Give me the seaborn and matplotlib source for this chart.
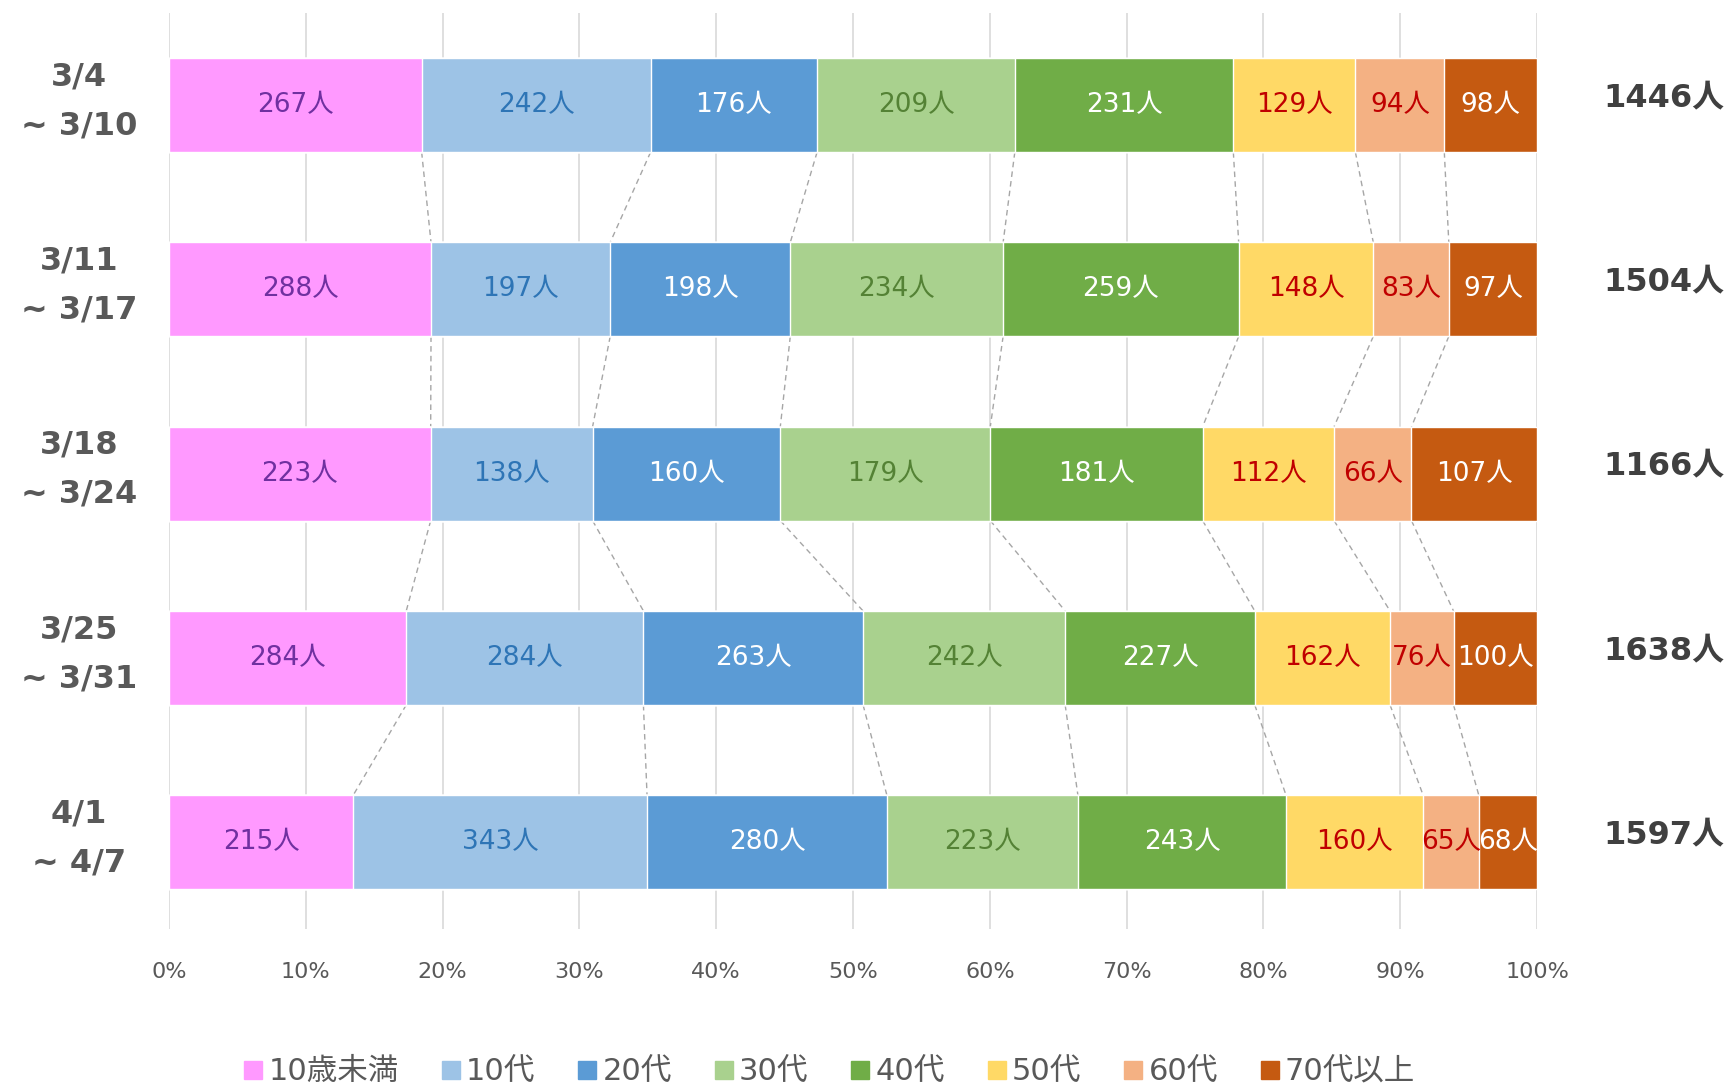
import numpy as np
import pandas as pd
import matplotlib
matplotlib.use("Agg")
import matplotlib.pyplot as plt
import seaborn as sns
from matplotlib.lines import Line2D

# ---- data ----
weeks = ["3/4\n~ 3/10", "3/11\n~ 3/17", "3/18\n~ 3/24", "3/25\n~ 3/31", "4/1\n~ 4/7"]
groups = ["10歳未満", "10代", "20代", "30代", "40代", "50代", "60代", "70代以上"]
under10 = [267, 288, 223, 284, 215]
teens = [242, 197, 138, 284, 343]
twenties = [176, 198, 160, 263, 280]
thirties = [209, 234, 179, 242, 223]
forties = [231, 259, 181, 227, 243]
fifties = [129, 148, 112, 162, 160]
sixties = [94, 83, 66, 76, 65]
seventies = [98, 97, 107, 100, 68]
totals = [1446, 1504, 1166, 1638, 1597]

colors = ["#FF99FF", "#9DC3E6", "#5B9BD5", "#A9D18E", "#70AD47", "#FFD966", "#F4B183", "#C55A11"]
label_colors = ["#7030A0", "#2E75B6", "white", "#548235", "white", "#C00000", "#C00000", "white"]

counts = np.array([under10, teens, twenties, thirties, forties, fifties, sixties, seventies]).T
shares = counts / counts.sum(axis=1, keepdims=True)
cum = np.cumsum(shares, axis=1)
left = cum - shares

sns.set_theme(style="white")
plt.rcParams['font.family'] = ['DejaVu Sans', 'Noto Sans CJK JP']

fig = plt.figure(figsize=(17.34, 10.85), dpi=100)
ax = fig.add_axes([0.0975, 0.144, 0.7889, 0.844])

# stacked bars: draw cumulative bars from the largest down so each covers the rest
for k in range(len(groups) - 1, -1, -1):
    df = pd.DataFrame({"week": weeks, "cum": cum[:, k]})
    sns.barplot(data=df, x="cum", y="week", orient="h", color=colors[k],
                width=0.51, saturation=1, ax=ax, zorder=3)

# value labels
for i in range(len(weeks)):
    for k in range(len(groups)):
        ax.text(left[i, k] + shares[i, k] / 2, i, f"{counts[i, k]}人",
                ha="center", va="center", fontsize=19, color=label_colors[k], zorder=5)

# dashed connectors between bars
half = 0.255
for i in range(len(weeks) - 1):
    for k in range(len(groups) - 1):
        ax.plot([cum[i, k], cum[i + 1, k]], [i + half, i + 1 - half],
                ls=(0, (4, 3)), color="#A6A6A6", lw=1, zorder=2)

# week labels on the left and totals on the right
for i, w in enumerate(weeks):
    ax.text(-0.066, i - 0.02, w, ha="center", va="center", fontsize=23, fontweight="bold",
            color="#595959", linespacing=1.75)
    ax.text(1.0925, i - 0.04, f"{totals[i]}人", ha="center", va="center", fontsize=23,
            fontweight="bold", color="#404040")

ax.set_xlim(0, 1)
ax.set_ylim(4.47, -0.5)
ax.set_xticks(np.arange(0, 1.01, 0.1))
ax.set_xticklabels([f"{int(round(t * 100))}%" for t in np.arange(0, 1.01, 0.1)],
                   fontsize=16, color="#595959")
ax.tick_params(axis="x", pad=24, length=0)
ax.set_yticks([])
ax.set_xlabel("")
ax.set_ylabel("")
ax.xaxis.grid(True, color="#D9D9D9", lw=1.2, zorder=0)
ax.set_axisbelow(True)
for s in ax.spines.values():
    s.set_visible(False)

handles = [Line2D([], [], marker="s", ls="", markersize=13, color=c) for c in colors]
fig.legend(handles, groups, loc="center", bbox_to_anchor=(0.478, 0.012), ncol=8,
           frameon=False, fontsize=22, handlelength=0.7, handletextpad=0.15,
           columnspacing=1.35, labelcolor="#595959")

fig.savefig("out.png", dpi=100)
